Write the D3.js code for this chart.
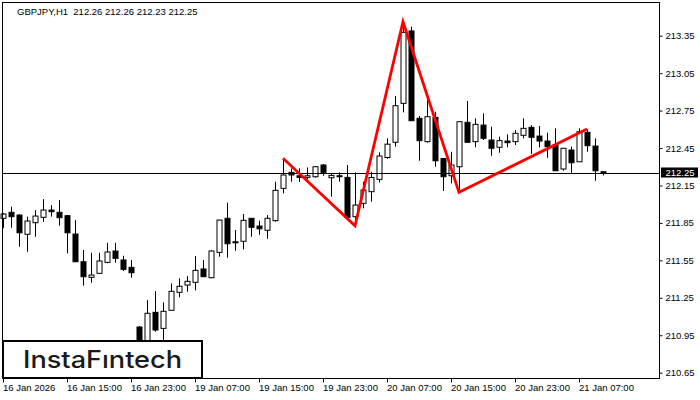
<!DOCTYPE html>
<html>
  <head>
    <meta charset="utf-8">
    <script src="https://d3js.org/d3.v7.min.js"></script>
    <style>
      body { margin: 0; background: #fff; }
      .axis text { font-family: "Liberation Sans", Arial, sans-serif; font-size: 9.5px; fill: #000; }
      .axis path { display: none; }
      .axis line { stroke: #000; }
    </style>
  </head>
  <body>
    <script>

      var opens  = [211.887,211.935,211.913,211.759,211.852,211.895,211.953,211.935,211.908,211.761,211.539,211.414,211.446,211.534,211.625,211.553,211.494,211.016,210.767,211.134,211.005,211.150,211.294,211.352,211.374,211.481,211.411,211.614,211.887,211.691,211.703,211.887,211.825,211.791,211.868,212.127,212.255,212.228,212.215,212.220,212.314,212.212,212.228,212.215,211.900,212.007,212.100,212.199,212.374,212.496,212.808,213.388,212.688,212.501,212.696,212.366,212.228,212.300,212.656,212.501,212.634,212.514,212.456,212.506,212.501,212.552,212.616,212.546,212.506,212.474,212.282,212.434,212.340,212.576,212.466,212.26];
      var highs  = [211.929,211.980,211.919,211.900,211.953,212.041,211.993,212.033,211.913,211.873,211.633,211.611,211.611,211.691,211.691,211.587,211.553,211.024,211.232,211.304,211.214,211.366,211.406,211.424,211.585,211.553,211.633,211.873,212.012,211.793,211.921,211.887,211.868,211.913,212.180,212.368,212.287,212.287,212.295,212.306,212.322,212.247,212.255,212.314,212.255,212.180,212.258,212.416,212.528,212.867,213.462,213.422,212.707,212.861,212.741,212.368,212.420,212.662,212.827,212.688,212.728,212.621,212.541,212.560,212.594,212.688,212.634,212.626,212.573,212.608,212.448,212.461,212.608,212.600,212.528,212.26];
      var lows   = [211.807,211.811,211.659,211.619,211.739,211.860,211.900,211.828,211.606,211.537,211.347,211.371,211.446,211.526,211.531,211.465,211.411,210.687,210.735,210.978,210.912,211.150,211.254,211.299,211.310,211.419,211.406,211.579,211.571,211.627,211.638,211.739,211.755,211.723,211.860,212.087,212.180,212.180,212.199,212.212,212.228,212.060,212.180,211.895,211.857,211.967,212.020,212.174,212.364,212.461,212.736,212.669,212.348,212.493,212.300,212.106,212.167,212.098,212.496,212.456,212.514,212.388,212.412,212.456,212.474,212.528,212.402,212.456,212.372,212.268,212.268,212.247,212.340,212.420,212.188,212.23];
      var closes = [211.921,211.900,211.771,211.865,211.905,211.953,211.940,211.892,211.771,211.539,211.419,211.432,211.545,211.617,211.566,211.478,211.451,210.767,211.126,210.992,211.142,211.302,211.342,211.382,211.470,211.419,211.625,211.873,211.683,211.699,211.871,211.815,211.803,211.887,212.111,212.234,212.234,212.215,212.228,212.300,212.255,212.231,212.220,211.895,211.993,212.114,212.214,212.386,212.481,212.789,213.377,212.669,212.509,212.701,212.348,212.220,212.314,212.661,212.496,212.640,212.528,212.448,212.509,212.493,212.568,212.608,212.536,212.506,212.461,212.268,212.448,212.332,212.581,212.469,212.268,212.25];

      var timeTickIndex  = [0, 8, 16, 24, 32, 40, 48, 56, 64, 72];
      var timeTickLabels = ["16 Jan 2026", "16 Jan 15:00", "16 Jan 23:00", "19 Jan 07:00", "19 Jan 15:00",
                            "19 Jan 23:00", "20 Jan 07:00", "20 Jan 15:00", "20 Jan 23:00", "21 Jan 07:00"];
      var priceTicks = [213.35, 213.05, 212.75, 212.45, 212.15, 211.85, 211.55, 211.25, 210.95, 210.65];

      var patternIndex = [35, 44, 50, 57, 73];
      var patternPrice = [212.368, 211.827, 213.462, 212.095, 212.602];

      var currentPrice = 212.25;
      var title = "GBPJPY,H1  212.26 212.26 212.23 212.25";

      var W = 700, H = 400;
      var plot = {left: 2.5, top: 2.5, right: 659.5, bottom: 378.5};

      var x = d3.scaleLinear().domain([0, 75]).range([3, 603]);
      var y = d3.scaleLinear().domain([210.65, 213.35]).range([372.7, 35.7]);

      var svg = d3.select("body").append("svg")
          .attr("width", W)
          .attr("height", H);

      // candles
      var candles = svg.append("g").attr("class", "candles");
      var idx = d3.range(opens.length);

      candles.selectAll("line.wick")
          .data(idx)
        .enter().append("line")
          .attr("class", "wick")
          .attr("x1", function(i){ return Math.round(x(i)) + 0.5; })
          .attr("x2", function(i){ return Math.round(x(i)) + 0.5; })
          .attr("y1", function(i){ return y(highs[i]); })
          .attr("y2", function(i){ return y(lows[i]); })
          .attr("stroke", "#000")
          .attr("stroke-width", 1);

      candles.selectAll("rect.body")
          .data(idx)
        .enter().append("rect")
          .attr("class", "body")
          .attr("x", function(i){ return Math.round(x(i)) - 2; })
          .attr("width", 5)
          .attr("y", function(i){ return y(Math.max(opens[i], closes[i])); })
          .attr("height", function(i){ return Math.max(1, Math.abs(y(opens[i]) - y(closes[i]))); })
          .attr("fill", function(i){ return closes[i] >= opens[i] ? "#fff" : "#000"; })
          .attr("stroke", "#000")
          .attr("stroke-width", 1);

      // current price line
      svg.append("line")
          .attr("x1", plot.left)
          .attr("x2", plot.right)
          .attr("y1", Math.round(y(currentPrice)) + 0.5)
          .attr("y2", Math.round(y(currentPrice)) + 0.5)
          .attr("stroke", "#000")
          .attr("stroke-width", 1);

      // pattern
      var line = d3.line()
          .x(function(d){ return x(d[0]); })
          .y(function(d){ return y(d[1]); });
      svg.append("path")
          .datum(d3.zip(patternIndex, patternPrice))
          .attr("d", line)
          .attr("fill", "none")
          .attr("stroke", "#ff0000")
          .attr("stroke-width", 2.8)
          .attr("stroke-linejoin", "miter");

      // frame
      svg.append("rect")
          .attr("x", plot.left)
          .attr("y", plot.top)
          .attr("width", plot.right - plot.left)
          .attr("height", plot.bottom - plot.top)
          .attr("fill", "none")
          .attr("stroke", "#000");

      // price axis
      var yAxis = d3.axisRight(y).tickValues(priceTicks).tickSize(3).tickPadding(3)
          .tickFormat(d3.format(".2f"));
      svg.append("g")
          .attr("class", "axis")
          .attr("transform", "translate(" + plot.right + ",0)")
          .call(yAxis);

      // current price tag
      var cy = y(currentPrice);
      svg.append("rect")
          .attr("x", 661)
          .attr("y", cy - 5.5)
          .attr("width", 37)
          .attr("height", 10)
          .attr("fill", "#000");
      svg.append("text")
          .attr("x", 665.5)
          .attr("y", cy)
          .attr("dy", "0.35em")
          .style("font-family", "'Liberation Sans', Arial, sans-serif")
          .style("font-size", "9.5px")
          .style("fill", "#fff")
          .text(d3.format(".2f")(currentPrice));

      // time axis
      var xAxis = d3.axisBottom(x).tickValues(timeTickIndex).tickSize(4).tickPadding(2)
          .tickFormat(function(d, i){ return timeTickLabels[i]; });
      var gx = svg.append("g")
          .attr("class", "axis")
          .attr("transform", "translate(0," + plot.bottom + ")")
          .call(xAxis);
      gx.selectAll("text").attr("text-anchor", "start").attr("x", -0.5);

      // title
      svg.append("text")
          .attr("x", 17)
          .attr("y", 14.5)
          .style("white-space", "pre")
          .style("font-family", "'Liberation Sans', Arial, sans-serif")
          .style("font-size", "9.5px")
          .style("fill", "#000")
          .text(title);

      // logo
      svg.append("rect")
          .attr("x", 3)
          .attr("y", 341)
          .attr("width", 199)
          .attr("height", 37)
          .attr("fill", "#fff")
          .attr("stroke", "#000")
          .attr("stroke-width", 2);
      svg.append("text")
          .attr("x", 23)
          .attr("y", 368)
          .attr("textLength", 159)
          .attr("lengthAdjust", "spacingAndGlyphs")
          .style("font-family", "Inter, 'Noto Sans', sans-serif")
          .style("font-size", "24px")
          .style("font-weight", 500)
          .style("fill", "#1a1a1a")
          .text("InstaFıntech");

    </script>
  </body>
</html>
